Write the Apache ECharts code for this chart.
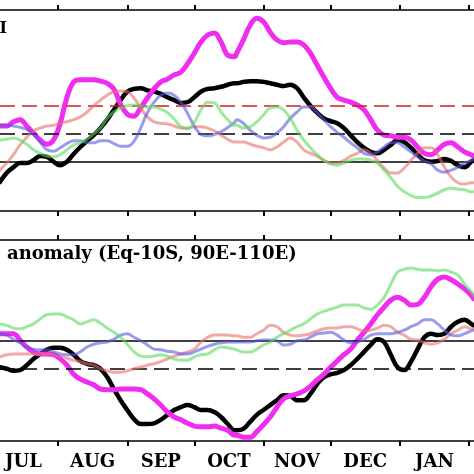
<!DOCTYPE html>
<html><head><meta charset="utf-8">
<script src="https://cdn.jsdelivr.net/npm/echarts@6/dist/echarts.min.js"></script>
<style>html,body{margin:0;padding:0;background:#fff}#c{width:474px;height:474px}</style>
</head><body><div id="c"></div>
<script>
// day index: 0 = 1 July
const days = [5,8,11,14,17,20,23,26,29,32,35,38,41,44,47,50,53,56,59,62,65,68,71,74,77,80,83,86,89,92,95,98,101,104,107,110,
  111,114,117,120,123,126,129,132,135,138,141,144,147,150,153,156,159,162,165,168,171,174,177,180,183,186,189,192,195,198,201,204,207,210,213,216,217];

const monthTicks = [31,62,92,123,153,184,215];
const monthLabelDays = [15.5,46.5,77,107.5,138,168.5,199.5];
const monthLabels = ['JUL','AUG','SEP','OCT','NOV','DEC','JAN'];

// top panel (index)
const topMagenta = [0.51,0.51,0.57,0.60,0.51,0.41,0.31,0.25,0.31,0.55,0.92,1.14,1.17,1.17,1.17,1.15,1.12,1.04,0.82,0.68,0.65,0.77,0.91,1.04,1.14,1.18,1.24,1.28,1.40,1.55,1.71,1.81,1.84,1.71,1.52,1.50,
  1.55,1.74,1.95,2.05,2.00,1.85,1.74,1.70,1.71,1.71,1.67,1.55,1.38,1.21,1.05,0.92,0.88,0.85,0.81,0.74,0.60,0.45,0.38,0.37,0.35,0.35,0.31,0.21,0.12,0.10,0.17,0.25,0.27,0.21,0.14,0.10,0.08];
const topBlack = [-0.29,-0.16,-0.08,-0.02,-0.02,0.02,0.08,0.07,0.00,-0.05,0.00,0.11,0.21,0.30,0.38,0.48,0.60,0.74,0.88,1.00,1.04,1.05,1.02,1.00,0.97,0.92,0.88,0.84,0.85,0.92,1.00,1.04,1.05,1.07,1.10,1.12,
  1.12,1.14,1.15,1.15,1.14,1.12,1.10,1.08,1.10,1.05,0.92,0.80,0.70,0.62,0.58,0.55,0.48,0.38,0.28,0.20,0.14,0.12,0.17,0.24,0.31,0.28,0.20,0.10,0.02,0.00,0.01,0.04,0.01,-0.05,-0.08,0.00,0.02];
const topBlue = [0.52,0.52,0.51,0.49,0.46,0.40,0.28,0.17,0.15,0.20,0.26,0.30,0.30,0.27,0.27,0.30,0.30,0.26,0.22,0.22,0.29,0.48,0.70,0.85,0.95,0.98,0.95,0.85,0.69,0.51,0.39,0.37,0.39,0.43,0.49,0.56,
  0.60,0.55,0.45,0.38,0.34,0.35,0.41,0.50,0.62,0.71,0.78,0.78,0.70,0.60,0.50,0.42,0.35,0.27,0.20,0.12,0.10,0.14,0.21,0.27,0.27,0.21,0.14,0.07,0.01,-0.03,-0.12,-0.15,-0.12,-0.08,-0.02,0.02,0.04];
const topGreen = [0.31,0.32,0.34,0.31,0.25,0.17,0.12,0.08,0.07,0.10,0.17,0.24,0.27,0.32,0.40,0.48,0.62,0.71,0.77,0.80,0.81,0.80,0.78,0.78,0.75,0.70,0.61,0.50,0.47,0.56,0.74,0.85,0.84,0.71,0.60,0.52,
  0.52,0.48,0.50,0.57,0.67,0.77,0.78,0.74,0.62,0.45,0.31,0.20,0.10,0.02,-0.03,-0.05,-0.02,0.02,0.04,0.04,0.02,-0.02,-0.12,-0.23,-0.35,-0.43,-0.48,-0.51,-0.51,-0.49,-0.45,-0.40,-0.38,-0.39,-0.40,-0.43,-0.43];
const topSalmon = [-0.12,-0.02,0.10,0.24,0.35,0.44,0.48,0.51,0.52,0.55,0.57,0.60,0.64,0.71,0.80,0.88,0.95,1.00,1.01,1.00,0.91,0.77,0.64,0.57,0.55,0.54,0.51,0.48,0.48,0.50,0.50,0.48,0.44,0.38,0.32,0.28,
  0.28,0.28,0.25,0.22,0.20,0.17,0.21,0.28,0.34,0.28,0.17,0.12,0.08,0.02,-0.02,-0.02,0.02,0.08,0.12,0.17,0.12,0.02,-0.09,-0.16,-0.16,-0.09,0.02,0.12,0.20,0.20,0.10,-0.08,-0.22,-0.30,-0.32,-0.30,-0.30];

// bottom panel (anomaly)
const botBlack = [-0.38,-0.40,-0.43,-0.42,-0.35,-0.26,-0.19,-0.13,-0.10,-0.10,-0.13,-0.20,-0.29,-0.33,-0.35,-0.40,-0.52,-0.69,-0.85,-0.99,-1.12,-1.19,-1.19,-1.18,-1.13,-1.06,-0.99,-0.95,-0.92,-0.95,-0.99,-0.99,-1.02,-1.09,-1.19,-1.28,
  -1.28,-1.26,-1.16,-1.06,-0.99,-0.92,-0.85,-0.78,-0.79,-0.85,-0.85,-0.76,-0.62,-0.52,-0.48,-0.46,-0.42,-0.35,-0.26,-0.16,-0.06,0.02,-0.02,-0.20,-0.38,-0.42,-0.30,-0.12,0.05,0.10,0.08,0.10,0.20,0.27,0.30,0.24,0.22];
const botMagenta = [0.10,0.10,0.10,0.01,-0.09,-0.16,-0.19,-0.19,-0.20,-0.26,-0.35,-0.48,-0.55,-0.59,-0.63,-0.69,-0.70,-0.70,-0.69,-0.69,-0.69,-0.70,-0.76,-0.83,-0.92,-1.02,-1.09,-1.13,-1.18,-1.22,-1.23,-1.23,-1.22,-1.25,-1.28,-1.35,
  -1.35,-1.38,-1.38,-1.30,-1.20,-1.09,-0.95,-0.83,-0.79,-0.76,-0.72,-0.65,-0.56,-0.48,-0.38,-0.29,-0.20,-0.12,0.01,0.12,0.24,0.37,0.48,0.58,0.62,0.58,0.51,0.52,0.62,0.77,0.88,0.91,0.87,0.81,0.74,0.65,0.60];
const botGreen = [0.24,0.22,0.18,0.17,0.20,0.24,0.31,0.37,0.38,0.38,0.34,0.30,0.24,0.27,0.30,0.25,0.18,0.12,0.05,-0.05,-0.16,-0.22,-0.23,-0.22,-0.20,-0.22,-0.26,-0.28,-0.28,-0.23,-0.20,-0.19,-0.13,-0.09,-0.10,-0.12,
  -0.13,-0.16,-0.16,-0.12,-0.06,-0.02,0.05,0.10,0.15,0.20,0.24,0.31,0.38,0.42,0.45,0.48,0.51,0.51,0.51,0.47,0.45,0.51,0.62,0.81,0.98,1.02,1.04,1.02,1.01,1.01,1.00,1.01,0.98,0.94,0.81,0.70,0.65];
const botBlue = [0.10,0.08,0.02,-0.03,-0.09,-0.12,-0.13,-0.13,-0.16,-0.19,-0.20,-0.20,-0.16,-0.09,-0.05,-0.03,-0.02,0.02,0.08,0.10,0.05,0.00,-0.06,-0.12,-0.13,-0.15,-0.16,-0.19,-0.19,-0.16,-0.12,-0.08,-0.05,-0.03,-0.02,-0.02,
  -0.02,-0.02,-0.02,0.00,0.01,0.01,0.00,-0.06,-0.05,0.00,0.01,0.05,0.10,0.11,0.12,0.08,0.01,-0.03,-0.02,0.02,0.08,0.10,0.10,0.10,0.12,0.15,0.20,0.24,0.30,0.30,0.24,0.15,0.08,0.07,0.10,0.14,0.15];
const botSalmon = [-0.23,-0.20,-0.19,-0.19,-0.19,-0.19,-0.19,-0.19,-0.20,-0.22,-0.25,-0.28,-0.30,-0.33,-0.35,-0.40,-0.43,-0.45,-0.45,-0.43,-0.40,-0.38,-0.35,-0.33,-0.30,-0.26,-0.22,-0.19,-0.16,-0.12,-0.02,0.05,0.08,0.08,0.08,0.07,
  0.07,0.05,0.05,0.10,0.15,0.22,0.20,0.12,0.08,0.07,0.08,0.10,0.14,0.17,0.18,0.18,0.20,0.20,0.17,0.14,0.15,0.18,0.22,0.20,0.12,0.08,0.02,0.01,-0.03,-0.05,-0.03,0.02,0.10,0.15,0.20,0.17,0.17];

const topRefSolid = 0, topRefDash = 0.4, topRefRed = 0.8;
const botRefSolid = 0, botRefDash = -0.4;

const XMIN = 5.03, XMAX = 217.24;
const FONT = 'DejaVu Serif';

function pts(v){ return days.map((d,i)=>[d, v[i]]); }

function xAx(grid, pos, withLabels){
  return {
    type:'value', gridIndex:grid, position:pos, min:XMIN, max:XMAX,
    splitLine:{show:false},
    axisLine:{show:true, onZero:false, lineStyle:{color:'#000', width:1.6}},
    axisTick:{show:true, inside:false, length:5, customValues:monthTicks, lineStyle:{color:'#000', width:2}},
    axisLabel: withLabels ? {show:true, customValues:monthLabelDays, margin:12,
      formatter:(v)=>{ const i = monthLabelDays.indexOf(v); return i>=0 ? monthLabels[i] : ''; },
      fontFamily:FONT, fontWeight:'bold', fontSize:18, color:'#000'} : {show:false}
  };
}
function yAx(grid, mn, mx){
  return {type:'value', gridIndex:grid, min:mn, max:mx, show:false, splitLine:{show:false}};
}
function ln(name, xi, yi, data, color, width, opacity, z){
  return {name, type:'line', xAxisIndex:xi, yAxisIndex:yi, data:pts(data), showSymbol:false, symbol:'none',
    smooth:0.4, z:z, silent:true, animation:false,
    lineStyle:{color, width, opacity, cap:'round', join:'round'}};
}
function refs(xi, yi, items){
  return {type:'line', xAxisIndex:xi, yAxisIndex:yi, data:[], z:1, silent:true, animation:false,
    markLine:{silent:true, symbol:['none','none'], animation:false, label:{show:false},
      data: items.map(it=>({yAxis:it[0], lineStyle:{color:it[1], width:1.6, type:it[2]}}))}};
}

const chart = echarts.init(document.getElementById('c'), null, {renderer:'canvas'});
chart.setOption({
  animation:false,
  backgroundColor:'#fff',
  grid:[
    {left:0, right:0, top:10, height:201},
    {left:0, right:0, top:240, height:201}
  ],
  xAxis:[ xAx(0,'bottom',false), xAx(0,'top',false), xAx(1,'bottom',true), xAx(1,'top',false) ],
  yAxis:[ yAx(0,-0.704,2.167), yAx(1,-1.433,1.439) ],
  graphic:[
    {type:'text', right:467, top:21, style:{text:'DMI', font:'bold 16px "DejaVu Serif"', fill:'#000'}},
    {type:'text', left:7, top:245, style:{text:'anomaly (Eq-10S, 90E-110E)', font:'bold 18px "DejaVu Serif"', fill:'#000'}}
  ],
  series:[
    refs(0,0,[[topRefSolid,'#000','solid'],[topRefDash,'#000',[15,7]],[topRefRed,'#cc2222',[15,7]]]),
    refs(2,1,[[botRefSolid,'#000','solid'],[botRefDash,'#000',[15,7]]]),
    ln('black',0,0,topBlack,'#000000',4.5,1,3),
    ln('magenta',0,0,topMagenta,'#f02cf0',5,1,4),
    ln('salmon',0,0,topSalmon,'#e8706a',3,0.6,5),
    ln('blue',0,0,topBlue,'#5858e0',3,0.6,5),
    ln('green',0,0,topGreen,'#5ad85a',3,0.6,5),
    ln('black',2,1,botBlack,'#000000',4.5,1,3),
    ln('magenta',2,1,botMagenta,'#f02cf0',5,1,4),
    ln('salmon',2,1,botSalmon,'#e8706a',3,0.6,5),
    ln('blue',2,1,botBlue,'#5858e0',3,0.6,5),
    ln('green',2,1,botGreen,'#5ad85a',3,0.6,5)
  ]
});
</script></body></html>
